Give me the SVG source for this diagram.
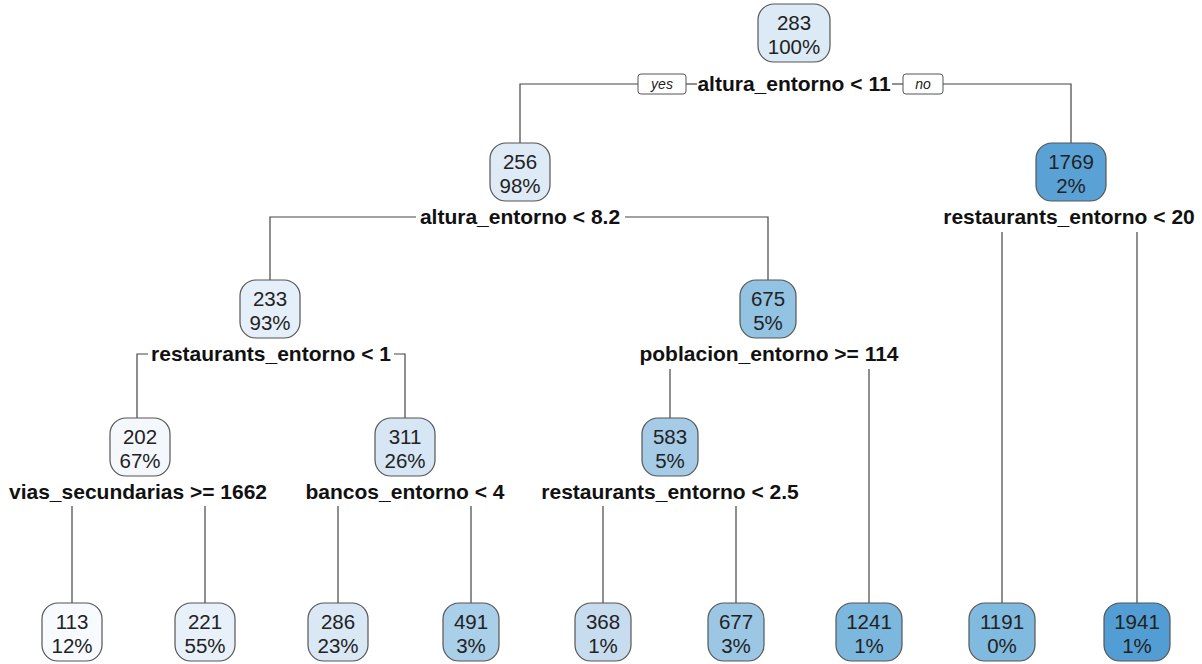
<svg xmlns="http://www.w3.org/2000/svg" width="1202" height="664" viewBox="0 0 1202 664">
<style>
.n rect{stroke:#555;stroke-width:1.2}
.n text{font-family:"Liberation Sans",Arial,sans-serif;font-size:20.5px;fill:#222;text-anchor:middle}
.s{font-family:"Liberation Sans",Arial,sans-serif;font-size:21px;font-weight:bold;fill:#111;text-anchor:middle}
.yn rect{fill:#fff;stroke:#555;stroke-width:1}
.yn text{font-family:"Liberation Sans",Arial,sans-serif;font-size:14px;font-style:italic;fill:#222;text-anchor:middle}
#connectors path{fill:none;stroke:#444;stroke-width:1.2}
</style>
<rect width="1202" height="664" fill="#fff"/>
<g id="connectors">
<path d="M638 84H520V143"/>
<path d="M686 84H697"/>
<path d="M892 84H903"/>
<path d="M943 84H1071V143"/>
<path d="M416 217H270V280"/>
<path d="M625 217H768V280"/>
<path d="M148 354H137V418"/>
<path d="M394 354H405V418"/>
<path d="M670 369V418"/>
<path d="M869 369V603"/>
<path d="M1002 232V603"/>
<path d="M1137 232V603"/>
<path d="M72 506V603"/>
<path d="M205 506V603"/>
<path d="M338 506V603"/>
<path d="M471 506V603"/>
<path d="M603 506V603"/>
<path d="M736 506V603"/>
</g>
<g id="labels">
<text class="s" x="794" y="91">altura_entorno &lt; 11</text>
<text class="s" x="520" y="224">altura_entorno &lt; 8.2</text>
<text class="s" x="1069" y="224">restaurants_entorno &lt; 20</text>
<text class="s" x="271" y="361">restaurants_entorno &lt; 1</text>
<text class="s" x="769" y="361">poblacion_entorno &gt;= 114</text>
<text class="s" x="138" y="499">vias_secundarias &gt;= 1662</text>
<text class="s" x="405" y="499">bancos_entorno &lt; 4</text>
<text class="s" x="670" y="499">restaurants_entorno &lt; 2.5</text>
</g>
<g id="yes" class="yn"><rect x="638" y="74" width="48" height="20" rx="3"/><text x="662" y="89">yes</text></g>
<g id="no" class="yn"><rect x="903" y="74" width="40" height="20" rx="3"/><text x="923" y="89">no</text></g>
<g id="n283" class="n"><rect x="758" y="4" width="72" height="58" rx="16" fill="#dceaf6"/><text x="794" y="30">283</text><text x="794" y="54">100%</text></g>
<g id="n256" class="n"><rect x="490" y="143" width="60" height="58" rx="16" fill="#deebf7"/><text x="520" y="169">256</text><text x="520" y="193">98%</text></g>
<g id="n1769" class="n"><rect x="1036" y="143" width="70" height="58" rx="16" fill="#5aa2d6"/><text x="1071" y="169">1769</text><text x="1071" y="193">2%</text></g>
<g id="n233" class="n"><rect x="240" y="280" width="60" height="58" rx="16" fill="#e5eff9"/><text x="270" y="306">233</text><text x="270" y="330">93%</text></g>
<g id="n675" class="n"><rect x="740" y="280" width="56" height="58" rx="16" fill="#92c3e2"/><text x="768" y="306">675</text><text x="768" y="330">5%</text></g>
<g id="n202" class="n"><rect x="110" y="418" width="60" height="58" rx="16" fill="#f4f8fd"/><text x="140" y="444">202</text><text x="140" y="468">67%</text></g>
<g id="n311" class="n"><rect x="375" y="418" width="60" height="58" rx="16" fill="#d6e6f4"/><text x="405" y="444">311</text><text x="405" y="468">26%</text></g>
<g id="n583" class="n"><rect x="642" y="418" width="56" height="58" rx="16" fill="#a6cbe6"/><text x="670" y="444">583</text><text x="670" y="468">5%</text></g>
<g id="n113" class="n"><rect x="42" y="603" width="60" height="58" rx="16" fill="#f7fbff"/><text x="72" y="629">113</text><text x="72" y="653">12%</text></g>
<g id="n221" class="n"><rect x="175" y="603" width="60" height="58" rx="16" fill="#e8f1fa"/><text x="205" y="629">221</text><text x="205" y="653">55%</text></g>
<g id="n286" class="n"><rect x="308" y="603" width="60" height="58" rx="16" fill="#dae8f5"/><text x="338" y="629">286</text><text x="338" y="653">23%</text></g>
<g id="n491" class="n"><rect x="443" y="603" width="56" height="58" rx="16" fill="#aacfe8"/><text x="471" y="629">491</text><text x="471" y="653">3%</text></g>
<g id="n368" class="n"><rect x="575" y="603" width="56" height="58" rx="16" fill="#c8dcf0"/><text x="603" y="629">368</text><text x="603" y="653">1%</text></g>
<g id="n677" class="n"><rect x="708" y="603" width="56" height="58" rx="16" fill="#9cc7e4"/><text x="736" y="629">677</text><text x="736" y="653">3%</text></g>
<g id="n1241" class="n"><rect x="836" y="603" width="66" height="58" rx="16" fill="#7cb7de"/><text x="869" y="629">1241</text><text x="869" y="653">1%</text></g>
<g id="n1191" class="n"><rect x="969" y="603" width="66" height="58" rx="16" fill="#80badf"/><text x="1002" y="629">1191</text><text x="1002" y="653">0%</text></g>
<g id="n1941" class="n"><rect x="1104" y="603" width="66" height="58" rx="16" fill="#529dd3"/><text x="1137" y="629">1941</text><text x="1137" y="653">1%</text></g>
</svg>
